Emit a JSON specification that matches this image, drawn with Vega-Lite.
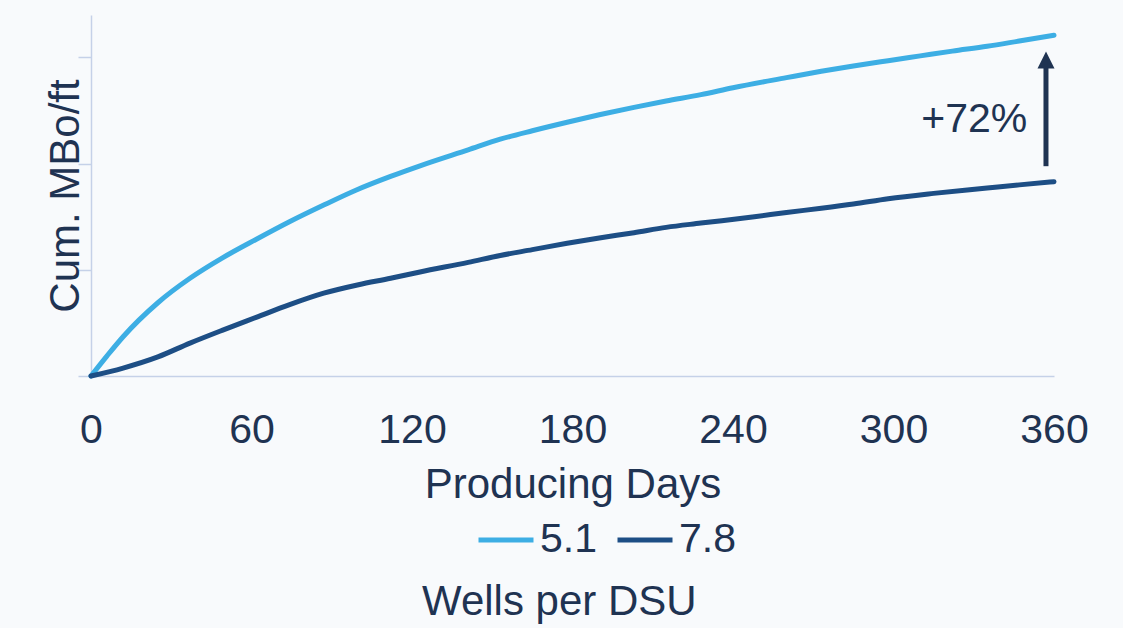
{
  "$schema": "https://vega.github.io/schema/vega-lite/v6.json",
  "width": 963,
  "height": 361,
  "autosize": "none",
  "padding": {"left": 91, "top": 15, "right": 69, "bottom": 252},
  "background": "#F8FAFC",
  "config": {"view": {"stroke": null}, "font": "Liberation Sans"},
  "datasets": {
    "curves": [
      {"day": 0, "value": 0, "wells": "5.1"},
      {"day": 6, "value": 0.19, "wells": "5.1"},
      {"day": 12, "value": 0.37, "wells": "5.1"},
      {"day": 25, "value": 0.69, "wells": "5.1"},
      {"day": 37, "value": 0.92, "wells": "5.1"},
      {"day": 49, "value": 1.11, "wells": "5.1"},
      {"day": 62, "value": 1.29, "wells": "5.1"},
      {"day": 74, "value": 1.45, "wells": "5.1"},
      {"day": 87, "value": 1.61, "wells": "5.1"},
      {"day": 99, "value": 1.75, "wells": "5.1"},
      {"day": 112, "value": 1.88, "wells": "5.1"},
      {"day": 123, "value": 1.98, "wells": "5.1"},
      {"day": 141, "value": 2.13, "wells": "5.1"},
      {"day": 153, "value": 2.23, "wells": "5.1"},
      {"day": 165, "value": 2.31, "wells": "5.1"},
      {"day": 178, "value": 2.39, "wells": "5.1"},
      {"day": 190, "value": 2.46, "wells": "5.1"},
      {"day": 203, "value": 2.53, "wells": "5.1"},
      {"day": 215, "value": 2.59, "wells": "5.1"},
      {"day": 228, "value": 2.65, "wells": "5.1"},
      {"day": 240, "value": 2.715, "wells": "5.1"},
      {"day": 260, "value": 2.81, "wells": "5.1"},
      {"day": 273, "value": 2.87, "wells": "5.1"},
      {"day": 285, "value": 2.92, "wells": "5.1"},
      {"day": 298, "value": 2.97, "wells": "5.1"},
      {"day": 310, "value": 3.015, "wells": "5.1"},
      {"day": 322, "value": 3.06, "wells": "5.1"},
      {"day": 335, "value": 3.105, "wells": "5.1"},
      {"day": 347, "value": 3.155, "wells": "5.1"},
      {"day": 360, "value": 3.21, "wells": "5.1"},
      {"day": 0, "value": 0, "wells": "7.8"},
      {"day": 12, "value": 0.075, "wells": "7.8"},
      {"day": 25, "value": 0.18, "wells": "7.8"},
      {"day": 37, "value": 0.31, "wells": "7.8"},
      {"day": 49, "value": 0.43, "wells": "7.8"},
      {"day": 62, "value": 0.555, "wells": "7.8"},
      {"day": 74, "value": 0.67, "wells": "7.8"},
      {"day": 87, "value": 0.78, "wells": "7.8"},
      {"day": 100, "value": 0.86, "wells": "7.8"},
      {"day": 112, "value": 0.92, "wells": "7.8"},
      {"day": 123, "value": 0.98, "wells": "7.8"},
      {"day": 141, "value": 1.07, "wells": "7.8"},
      {"day": 153, "value": 1.135, "wells": "7.8"},
      {"day": 165, "value": 1.19, "wells": "7.8"},
      {"day": 178, "value": 1.25, "wells": "7.8"},
      {"day": 190, "value": 1.30, "wells": "7.8"},
      {"day": 203, "value": 1.35, "wells": "7.8"},
      {"day": 215, "value": 1.40, "wells": "7.8"},
      {"day": 228, "value": 1.44, "wells": "7.8"},
      {"day": 248, "value": 1.50, "wells": "7.8"},
      {"day": 260, "value": 1.54, "wells": "7.8"},
      {"day": 273, "value": 1.58, "wells": "7.8"},
      {"day": 285, "value": 1.62, "wells": "7.8"},
      {"day": 298, "value": 1.67, "wells": "7.8"},
      {"day": 315, "value": 1.72, "wells": "7.8"},
      {"day": 335, "value": 1.77, "wells": "7.8"},
      {"day": 347, "value": 1.80, "wells": "7.8"},
      {"day": 360, "value": 1.83, "wells": "7.8"}
    ],
    "arrow": [
      {"day": 357, "from": 1.976, "to": 2.93, "head": 2.977, "label": "+72%", "labelDay": 350, "labelValue": 2.295}
    ]
  },
  "layer": [
    {
      "data": {"name": "curves"},
      "mark": {"type": "line", "strokeWidth": 5, "strokeCap": "round", "strokeJoin": "round", "interpolate": "monotone"},
      "encoding": {
        "x": {
          "field": "day", "type": "quantitative",
          "scale": {"domain": [0, 360], "nice": false},
          "axis": {
            "values": [0, 60, 120, 180, 240, 300, 360],
            "grid": false, "ticks": false, "tickSize": 0,
            "domainColor": "#C5D1E8", "domainWidth": 1.5,
            "labelFontSize": 41, "labelColor": "#1F3352", "labelFlush": false,
            "labelBaseline": "alphabetic", "labelPadding": 66,
            "title": "Producing Days", "titleFontSize": 42, "titleFontWeight": "normal",
            "titleColor": "#1F3352", "titleBaseline": "alphabetic", "titleY": 121
          }
        },
        "y": {
          "field": "value", "type": "quantitative",
          "scale": {"domain": [0, 3.4], "nice": false},
          "axis": {
            "values": [0, 1, 2, 3],
            "grid": false, "labels": false, "ticks": true, "tickSize": 13,
            "tickColor": "#C5D1E8", "tickWidth": 1.5,
            "domainColor": "#C5D1E8", "domainWidth": 1.5,
            "title": "Cum. MBo/ft", "titleFontSize": 42, "titleFontWeight": "normal",
            "titleColor": "#1F3352", "titleBaseline": "alphabetic", "titleAngle": -90,
            "titleX": -13, "titleY": 180.5
          }
        },
        "color": {
          "field": "wells", "type": "nominal",
          "scale": {"domain": ["5.1", "7.8"], "range": ["#3DAEE4", "#1D4E85"]},
          "legend": {
            "title": "Wells per DSU",
            "orient": "none", "legendX": 331, "legendY": 495,
            "direction": "horizontal",
            "titleOrient": "bottom", "titleAnchor": "start", "titleLimit": 600,
            "titleFontSize": 42, "titleFontWeight": "normal", "titleColor": "#1F3352",
            "titlePadding": 22,
            "symbolType": "stroke", "symbolSize": 3025, "symbolStrokeWidth": 5,
            "labelFontSize": 41, "labelColor": "#1F3352", "labelOffset": 4,
            "columnPadding": 10,
            "encode": {"title": {"update": {"dx": {"value": -54}}}}
          }
        }
      }
    },
    {
      "data": {"name": "arrow"},
      "mark": {"type": "rule", "strokeWidth": 5, "color": "#1F3352"},
      "encoding": {
        "x": {"field": "day", "type": "quantitative"},
        "y": {"field": "from", "type": "quantitative"},
        "y2": {"field": "to"}
      }
    },
    {
      "data": {"name": "arrow"},
      "mark": {"type": "point", "shape": "M-1,1L1,1L0,-1Z", "size": 289, "filled": true, "opacity": 1, "color": "#1F3352"},
      "encoding": {
        "x": {"field": "day", "type": "quantitative"},
        "y": {"field": "head", "type": "quantitative"}
      }
    },
    {
      "data": {"name": "arrow"},
      "mark": {"type": "text", "fontSize": 41, "align": "right", "baseline": "alphabetic", "color": "#1F3352"},
      "encoding": {
        "x": {"field": "labelDay", "type": "quantitative"},
        "y": {"field": "labelValue", "type": "quantitative"},
        "text": {"field": "label"}
      }
    }
  ]
}
